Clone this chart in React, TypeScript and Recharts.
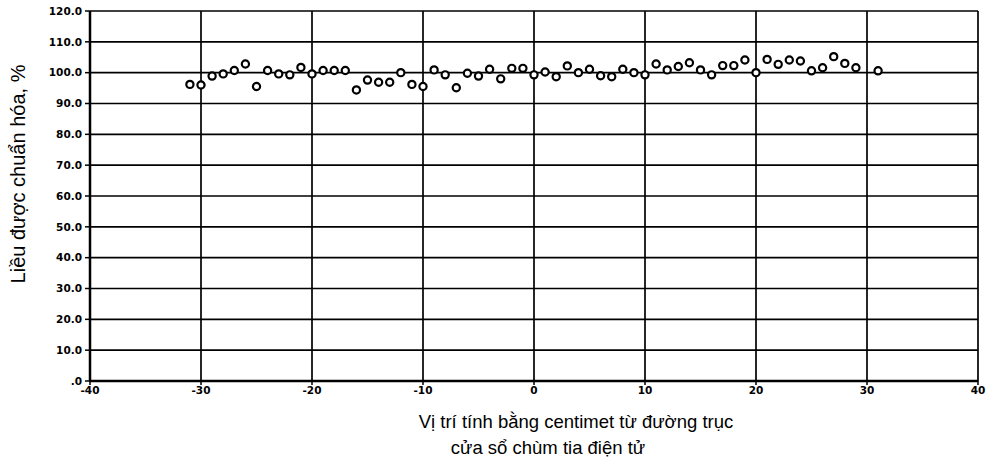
import React from 'react';
import { ScatterChart, Scatter, XAxis, YAxis, CartesianGrid, Label } from 'recharts';

const positions: number[] = [
  -31, -30, -29, -28, -27, -26, -25, -24, -23, -22, -21, -20, -19, -18, -17, -16,
  -15, -14, -13, -12, -11, -10, -9, -8, -7, -6, -5, -4, -3, -2, -1, 0,
  1, 2, 3, 4, 5, 6, 7, 8, 9, 10, 11, 12, 13, 14, 15, 16, 17, 18, 19, 20,
  21, 22, 23, 24, 25, 26, 27, 28, 29, 31,
];
const doses: number[] = [
  96.2, 96.0, 98.9, 99.6, 100.7, 102.8, 95.5, 100.7, 99.6, 99.3, 101.7, 99.6, 100.7, 100.7, 100.7, 94.4,
  97.6, 96.9, 96.9, 100.0, 96.2, 95.5, 100.9, 99.3, 95.1, 99.8, 98.9, 101.1, 98.0, 101.4, 101.4, 99.3,
  100.2, 98.7, 102.2, 100.0, 101.1, 99.0, 98.7, 101.1, 100.0, 99.3, 102.8, 100.9, 102.0, 103.2, 100.9, 99.3, 102.3, 102.3, 104.1, 100.0,
  104.3, 102.7, 104.1, 103.8, 100.6, 101.6, 105.2, 103.0, 101.6, 100.6,
];
const xTicks: number[] = [-40, -30, -20, -10, 0, 10, 20, 30, 40];
const yTicks: number[] = [0, 10, 20, 30, 40, 50, 60, 70, 80, 90, 100, 110, 120];
const yTitle = 'Liều được chuẩn hóa, %';
const xTitleLines: string[] = ['Vị trí tính bằng centimet từ đường trục', 'cửa sổ chùm tia điện tử'];

const data = positions.map((x, i) => ({ x, y: doses[i] }));

const fmtY = (v: number) => (v === 0 ? '.0' : v.toFixed(1));

const Dot = (props: any) => {
  const { cx, cy } = props;
  return <circle cx={cx} cy={cy} r={3.6} fill="#fff" stroke="#000" strokeWidth={2.2} />;
};

const tickStyle = { fontFamily: '"DejaVu Sans", sans-serif', fontSize: 10.5, fontWeight: 700, fill: '#000' };
const titleFont = 'Arial, "Liberation Sans", sans-serif';

export default function App() {
  return (
    <div style={{ position: 'absolute', left: 0, top: 0, width: 994, height: 465, background: '#fff' }}>
      <ScatterChart width={994} height={465} margin={{ top: 11, right: 16, bottom: 64, left: 0 }}>
        <CartesianGrid stroke="#000" strokeWidth={1.7} horizontalValues={yTicks} verticalValues={xTicks} />
        <XAxis
          type="number"
          dataKey="x"
          domain={[-40, 40]}
          ticks={xTicks}
          tick={tickStyle}
          tickSize={4}
          tickMargin={2}
          height={20}
          axisLine={{ stroke: '#000', strokeWidth: 2.5 }}
          tickLine={{ stroke: '#000', strokeWidth: 1.5 }}
          interval={0}
        >
          <Label
            content={() => (
              <text style={{ fontFamily: titleFont, fontSize: 18.5, fill: '#000' }}>
                <tspan x={576} y={428} textAnchor="middle">{xTitleLines[0]}</tspan>
                <tspan x={548} y={454} textAnchor="middle">{xTitleLines[1]}</tspan>
              </text>
            )}
          />
        </XAxis>
        <YAxis
          type="number"
          dataKey="y"
          domain={[0, 120]}
          ticks={yTicks}
          tickFormatter={fmtY}
          tick={tickStyle}
          width={90}
          tickSize={5}
          tickMargin={3}
          axisLine={{ stroke: '#000', strokeWidth: 2.5 }}
          tickLine={{ stroke: '#000', strokeWidth: 1.5 }}
          interval={0}
        >
          <Label
            content={() => (
              <text
                x={18}
                y={174}
                transform="rotate(-90 18 174)"
                textAnchor="middle"
                dominantBaseline="central"
                style={{ fontFamily: titleFont, fontSize: 20, fill: '#000' }}
              >
                {yTitle}
              </text>
            )}
          />
        </YAxis>
        <Scatter data={data} shape={<Dot />} isAnimationActive={false} />
      </ScatterChart>
    </div>
  );
}
